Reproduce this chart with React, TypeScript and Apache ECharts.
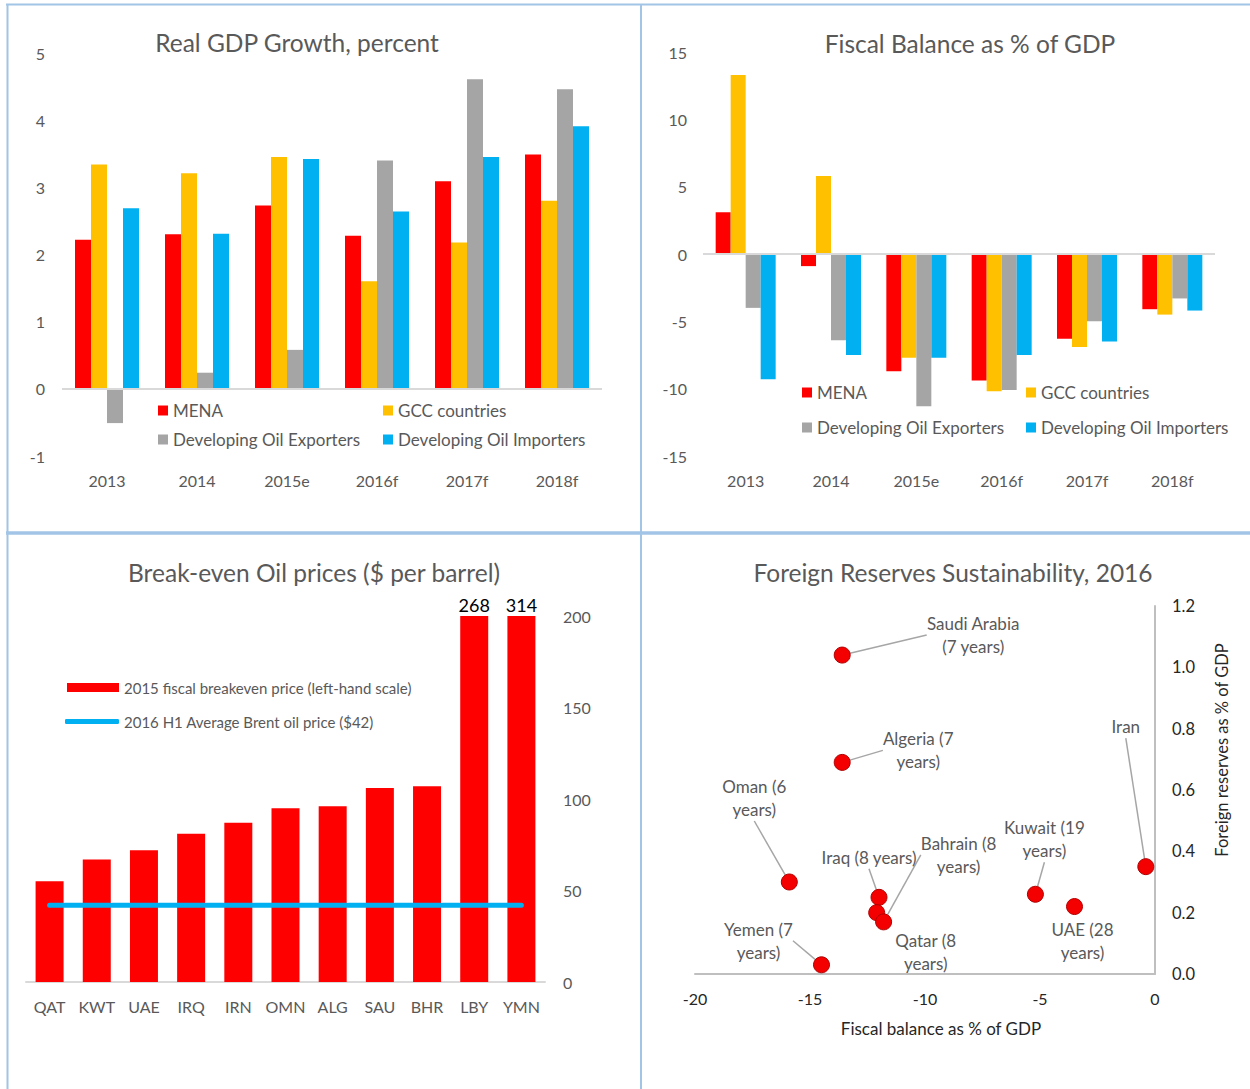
import React, { useEffect, useRef } from "react";
import * as echarts from "echarts";

// ---------- data ----------
const years = ["2013", "2014", "2015e", "2016f", "2017f", "2018f"];
const seriesNames = ["MENA", "GCC countries", "Developing Oil Exporters", "Developing Oil Importers"];

const gdpMENA = [2.22, 2.3, 2.73, 2.28, 3.09, 3.49];
const gdpGCC = [3.34, 3.21, 3.45, 1.6, 2.18, 2.8];
const gdpExporters = [-0.51, 0.24, 0.58, 3.4, 4.61, 4.46];
const gdpImporters = [2.69, 2.31, 3.42, 2.64, 3.45, 3.91];

const fiscalMENA = [3.1, -0.9, -8.7, -9.4, -6.3, -4.1];
const fiscalGCC = [13.3, 5.8, -7.7, -10.2, -6.9, -4.5];
const fiscalExporters = [-4.0, -6.4, -11.3, -10.1, -5.0, -3.3];
const fiscalImporters = [-9.3, -7.5, -7.7, -7.5, -6.5, -4.2];

const oilCountries = ["QAT", "KWT", "UAE", "IRQ", "IRN", "OMN", "ALG", "SAU", "BHR", "LBY", "YMN"];
const breakeven = [55, 67, 72, 81, 87, 95, 96, 106, 107, 268, 314];
const brent = [42, 42, 42, 42, 42, 42, 42, 42, 42, 42, 42];
const breakevenTicks = [0, 50, 100, 150, 200];

const reserveLabels = [
  "Saudi Arabia\n(7 years)",
  "Algeria (7\nyears)",
  "Oman (6\nyears)",
  "Iraq (8 years)",
  "Qatar (8\nyears)",
  "Bahrain (8\nyears)",
  "Kuwait (19\nyears)",
  "UAE (28\nyears)",
  "Iran",
  "Yemen (7\nyears)",
];
const reserveFiscal = [-13.6, -13.6, -15.9, -12.0, -12.1, -11.8, -5.2, -3.5, -0.4, -14.5];
const reserveLevels = [1.04, 0.69, 0.3, 0.25, 0.2, 0.17, 0.26, 0.22, 0.35, 0.03];

// ---------- layout / style (not data) ----------
const labelOffsets = [
  [131, -20],
  [76, -12],
  [-35, -84],
  [-10, -40],
  [49, 39],
  [75, -67],
  [9, -55],
  [8, 34],
  [-20, -140],
  [-63, -24],
];
const noLeader = [4, 7];

const colors = ["#FF0000", "#FFC000", "#A5A5A5", "#00B0F0"];
const GREY = "#595959";
const DARK = "#262626";
const FONT = "Lato";
const BORDER = "#A2C4E6";

function App() {
  const ref = useRef<HTMLDivElement>(null);

  useEffect(() => {
    if (!ref.current) return;
    const chart = echarts.init(ref.current, null, { renderer: "svg" });

    const gdpData = [gdpMENA, gdpGCC, gdpExporters, gdpImporters];
    const fiscalData = [fiscalMENA, fiscalGCC, fiscalExporters, fiscalImporters];
    const breakevenMax = breakevenTicks[breakevenTicks.length - 1];

    const zeroLine = {
      silent: true,
      symbol: "none",
      label: { show: false },
      lineStyle: { color: "#D9D9D9", width: 2, type: "solid" },
      data: [{ yAxis: 0 }],
    };

    const barSeries = (data: number[][], axis: number, width: number) =>
      data.map((d, i) => ({
        type: "bar",
        name: seriesNames[i],
        xAxisIndex: axis,
        yAxisIndex: axis,
        data: d,
        barWidth: width,
        barGap: "0%",
        itemStyle: { color: colors[i] },
        markLine: i === 0 ? zeroLine : undefined,
      }));

    const legendPos = (x0: number, x1: number, y0: number, y1: number) => [
      [x0, y0],
      [x1, y0],
      [x0, y1],
      [x1, y1],
    ];
    const topLegends: any[] = [];
    [legendPos(158, 383, 411, 440), legendPos(802, 1026, 393, 428)].forEach((pos) => {
      pos.forEach((p, i) => {
        topLegends.push({
          data: [{ name: seriesNames[i], icon: "rect" }],
          left: p[0],
          top: p[1] - 9,
          padding: 0,
          itemWidth: 10,
          itemHeight: 10,
          textStyle: { color: GREY, fontSize: 17, fontFamily: FONT },
        });
      });
    });

    const catAxis = (grid: number, data: string[]) => ({
      type: "category",
      gridIndex: grid,
      data,
      axisLine: { show: false },
      axisTick: { show: false },
      axisLabel: { color: GREY, fontSize: 16, margin: 16, fontFamily: FONT, interval: 0 },
    });

    const valAxisBase = {
      type: "value",
      splitLine: { show: false },
      axisLine: { show: false },
      axisTick: { show: false },
    };

    const option: any = {
      animation: false,
      backgroundColor: "#ffffff",
      textStyle: { fontFamily: FONT },
      title: [
        { text: "Real GDP Growth, percent", left: 297, top: 30 },
        { text: "Fiscal Balance as % of GDP", left: 970, top: 31 },
        { text: "Break-even Oil prices ($ per barrel)", left: 314, top: 560 },
        { text: "Foreign Reserves Sustainability, 2016", left: 953, top: 560 },
      ].map((t) => ({
        ...t,
        textAlign: "center",
        padding: 0,
        textStyle: { color: GREY, fontSize: 24.5, fontWeight: "normal", fontFamily: FONT },
      })),
      legend: [
        ...topLegends,
        {
          data: [{ name: "2015 fiscal breakeven price (left-hand scale)", icon: "rect" }],
          left: 67,
          top: 680,
          padding: 0,
          itemWidth: 52,
          itemHeight: 9,
          textStyle: { color: GREY, fontSize: 15, fontFamily: FONT },
        },
        {
          data: [{ name: "2016 H1 Average Brent oil price ($42)", icon: "roundRect" }],
          left: 65,
          top: 714,
          padding: 0,
          itemWidth: 54,
          itemHeight: 5,
          textStyle: { color: GREY, fontSize: 15, fontFamily: FONT },
        },
      ],
      grid: [
        { left: 62, top: 53, width: 540, height: 403 },
        { left: 703, top: 52, width: 512, height: 404 },
        { left: 26, top: 616, width: 519, height: 366 },
        { left: 695, top: 606, width: 460, height: 368 },
      ],
      xAxis: [
        catAxis(0, years),
        catAxis(1, years),
        {
          ...catAxis(2, oilCountries),
          axisLine: { show: true, lineStyle: { color: "#D9D9D9", width: 2 } },
        },
        {
          type: "value",
          gridIndex: 3,
          min: -20,
          max: 0,
          interval: 5,
          splitLine: { show: false },
          axisTick: { show: false },
          axisLine: { show: true, onZero: false, lineStyle: { color: "#BFBFBF", width: 2 } },
          axisLabel: { color: DARK, fontSize: 16, margin: 16, fontFamily: FONT },
        },
      ],
      yAxis: [
        {
          ...valAxisBase,
          gridIndex: 0,
          min: -1,
          max: 5,
          interval: 1,
          axisLabel: { color: GREY, fontSize: 16, margin: 17, fontFamily: FONT },
        },
        {
          ...valAxisBase,
          gridIndex: 1,
          min: -15,
          max: 15,
          interval: 5,
          axisLabel: { color: GREY, fontSize: 16, margin: 16, fontFamily: FONT },
        },
        {
          ...valAxisBase,
          gridIndex: 2,
          position: "right",
          min: breakevenTicks[0],
          max: breakevenMax,
          interval: breakevenTicks[1] - breakevenTicks[0],
          axisLabel: { color: GREY, fontSize: 16, margin: 18, fontFamily: FONT },
        },
        {
          ...valAxisBase,
          gridIndex: 3,
          position: "right",
          min: 0,
          max: 1.2,
          interval: 0.2,
          axisLine: { show: true, onZero: false, lineStyle: { color: "#BFBFBF", width: 2 } },
          axisLabel: {
            color: DARK,
            fontSize: 16.5,
            margin: 17,
            fontFamily: FONT,
            formatter: (v: number) => v.toFixed(1),
          },
        },
      ],
      series: [
        ...barSeries(gdpData, 0, 16),
        ...barSeries(fiscalData, 1, 15),
        {
          type: "bar",
          name: "2015 fiscal breakeven price (left-hand scale)",
          xAxisIndex: 2,
          yAxisIndex: 2,
          barWidth: 28,
          itemStyle: { color: "#FF0000" },
          data: breakeven.map((v) => ({
            value: Math.min(v, breakevenMax),
            label: { show: v > breakevenMax },
          })),
          label: {
            position: "top",
            distance: 2,
            color: "#000000",
            fontSize: 18,
            fontFamily: FONT,
            formatter: (p: any) => String(breakeven[p.dataIndex]),
          },
        },
        {
          type: "line",
          name: "2016 H1 Average Brent oil price ($42)",
          xAxisIndex: 2,
          yAxisIndex: 2,
          data: brent,
          symbol: "none",
          lineStyle: { color: "#00B0F0", width: 5, cap: "round" },
          itemStyle: { color: "#00B0F0" },
        },
        {
          type: "scatter",
          name: "reserves",
          xAxisIndex: 3,
          yAxisIndex: 3,
          symbolSize: 16,
          itemStyle: { color: "#F50000", borderColor: "#B00000", borderWidth: 1, opacity: 1 },
          data: reserveFiscal.map((x, i) => ({
            value: [x, reserveLevels[i]],
            labelLine: { show: noLeader.indexOf(i) < 0 },
          })),
          label: {
            show: true,
            position: "inside",
            color: GREY,
            fontSize: 17,
            lineHeight: 23,
            align: "center",
            fontFamily: FONT,
            formatter: (p: any) => reserveLabels[p.dataIndex],
          },
          labelLine: { show: true, lineStyle: { color: "#A6A6A6", width: 1.5 } },
          labelLayout: (p: any) => ({
            dx: labelOffsets[p.dataIndex][0],
            dy: labelOffsets[p.dataIndex][1],
          }),
          z: 3,
        },
      ],
      graphic: [
        { type: "line", shape: { x1: 6, y1: 4.5, x2: 1250, y2: 4.5 }, style: { stroke: BORDER, lineWidth: 2 } },
        { type: "line", shape: { x1: 7.5, y1: 4, x2: 7.5, y2: 1089 }, style: { stroke: BORDER, lineWidth: 2 } },
        { type: "line", shape: { x1: 641, y1: 4, x2: 641, y2: 1089 }, style: { stroke: BORDER, lineWidth: 2 } },
        { type: "line", shape: { x1: 6, y1: 533, x2: 1250, y2: 533 }, style: { stroke: BORDER, lineWidth: 3.5 } },
        {
          type: "text",
          x: 941,
          y: 1028,
          style: {
            text: "Fiscal balance as % of GDP",
            fill: DARK,
            font: `17px ${FONT}`,
            align: "center",
            verticalAlign: "middle",
          },
        },
        {
          type: "text",
          x: 1222,
          y: 750,
          rotation: Math.PI / 2,
          style: {
            text: "Foreign reserves as % of GDP",
            fill: DARK,
            font: `16.5px ${FONT}`,
            align: "center",
            verticalAlign: "middle",
          },
        },
      ],
    };

    chart.setOption(option);
    return () => chart.dispose();
  }, []);

  return (
    <div
      ref={ref}
      style={{ position: "absolute", left: 0, top: 0, width: 1250, height: 1089, background: "#fff" }}
    />
  );
}

export default App;
